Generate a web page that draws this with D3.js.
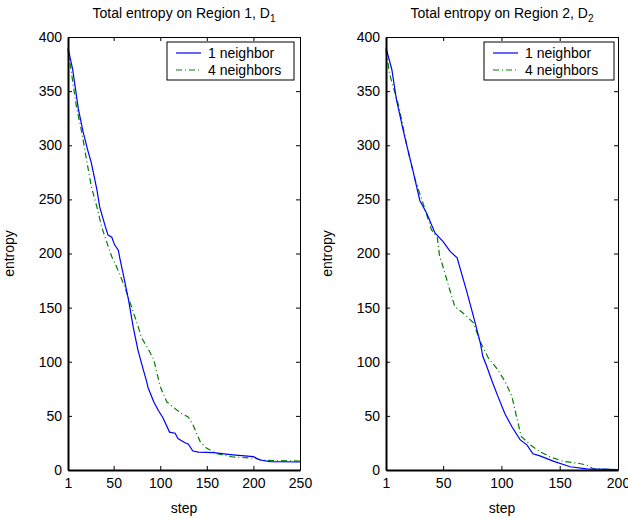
<!DOCTYPE html>
<html>
<head>
<meta charset="utf-8">
<script src="https://cdn.jsdelivr.net/npm/d3@7"></script>
<style>
  body { margin: 0; background: #fff; }
  text { font-family: "Liberation Sans", Arial, Helvetica, sans-serif; fill: #000; }
</style>
</head>
<body>
<div id="chart"></div>
<script>
// series names
const seriesNames = ['1 neighbor', '4 neighbors'];
const yTicks = [0, 50, 100, 150, 200, 250, 300, 350, 400];

// Region 1 (D1)
const r1Ticks = [1, 50, 100, 150, 200, 250];
const r1OneSteps = [1, 6, 12, 17, 22, 26, 32, 35, 41, 44, 48, 51, 55, 57, 60, 66, 71, 76, 82, 85, 87, 93, 98, 103, 110, 116, 119, 127, 130, 135, 141, 157, 178, 200, 207, 218, 250];
const r1OneVals = [390, 370, 334, 313, 296, 284, 259, 243, 225, 217, 215, 208, 203, 194, 182, 157, 132, 111, 92, 83, 76, 63, 55, 48, 35, 34, 29, 25, 24, 17.5, 16.6, 16, 14, 12.3, 9.2, 7.7, 7.4];
const r1FourSteps = [1, 5, 10, 16, 21, 26, 32, 37, 42, 48, 53, 62, 69, 75, 80, 87, 93, 100, 107, 114, 123, 130, 135, 143, 150, 161, 178, 200, 211, 228, 250];
const r1FourVals = [388, 365, 336, 311, 286, 262, 243, 225, 212, 197, 188, 169, 151, 136, 122, 112, 102, 77, 63, 58, 52, 49, 42, 26, 20, 15, 12, 11, 9, 8.6, 8.3];

// Region 2 (D2)
const r2Ticks = [1, 50, 100, 150, 200];
const r2OneSteps = [1, 6, 10, 17, 24, 30, 36, 43, 50, 56, 62, 70, 76, 82, 84, 87, 92, 97, 103, 109, 116, 122, 127, 133, 145, 159, 173, 200];
const r2OneVals = [390, 370, 342, 308, 277, 249, 237, 219, 211, 202, 196, 166, 142, 117, 105, 97, 82, 68, 52, 40, 28, 23, 15, 13, 8, 3, 1, 0.3];
const r2FourSteps = [1, 4, 12, 19, 26, 32, 40, 45, 47, 49, 55, 60, 67, 76, 82, 89, 96, 103, 109, 113, 117, 125, 133, 142, 153, 167, 173, 179, 200];
const r2FourVals = [388, 366, 336, 299, 268, 249, 222, 215, 197, 191, 169, 151, 145, 136, 118, 103, 94, 82, 68, 49, 31, 23, 17, 12, 8, 6, 4.6, 1, 0.3];

const svg = d3.select('#chart').append('svg')
  .attr('width', 628)
  .attr('height', 518);

const fontSize = '14px';

function zip(steps, vals) {
  return steps.map((s, i) => ({ step: s, value: vals[i] }));
}

function drawPanel(cfg) {
  const w = 232, h = 433;
  const g = svg.append('g').attr('transform', `translate(${cfg.left}, 37)`);

  const x = d3.scaleLinear().domain([1, cfg.xMax]).range([0, w]);
  const y = d3.scaleLinear().domain([0, 400]).range([h, 0]);

  const line = d3.line()
    .x(d => x(d.step))
    .y(d => y(d.value));

  // curves
  g.append('path')
    .datum(zip(cfg.fourSteps, cfg.fourVals))
    .attr('fill', 'none')
    .attr('stroke', '#008000')
    .attr('stroke-width', 1.2)
    .attr('stroke-dasharray', '6,3,1,3')
    .attr('d', line);

  g.append('path')
    .datum(zip(cfg.oneSteps, cfg.oneVals))
    .attr('fill', 'none')
    .attr('stroke', '#0000ff')
    .attr('stroke-width', 1.2)
    .attr('d', line);

  // axes, matlab style: ticks inward on all four sides
  const bottom = g.append('g').attr('transform', `translate(0, ${h})`)
    .call(d3.axisBottom(x).tickValues(cfg.xTicks).tickSizeInner(-4).tickSizeOuter(0).tickPadding(8));
  const top = g.append('g')
    .call(d3.axisTop(x).tickValues(cfg.xTicks).tickSizeInner(-4).tickSizeOuter(0).tickFormat(''));
  const left = g.append('g')
    .call(d3.axisLeft(y).tickValues(yTicks).tickSizeInner(-4).tickSizeOuter(0).tickPadding(6));
  const right = g.append('g').attr('transform', `translate(${w}, 0)`)
    .call(d3.axisRight(y).tickValues(yTicks).tickSizeInner(-4).tickSizeOuter(0).tickFormat(''));

  [bottom, top, left, right].forEach(a => {
    a.selectAll('path').attr('stroke', '#000').attr('stroke-width', 1);
    a.selectAll('line').attr('stroke', '#000');
    a.selectAll('text').style('font-size', fontSize).attr('fill', '#000');
  });
  bottom.select('path').attr('stroke-width', 2);
  left.select('path').attr('stroke-width', 2);

  // title
  const title = g.append('text')
    .attr('x', w / 2)
    .attr('y', -19)
    .attr('text-anchor', 'middle')
    .style('font-size', fontSize);
  title.append('tspan').text(cfg.title);
  title.append('tspan').attr('dy', 4).style('font-size', '10px').text(cfg.sub);

  g.append('text')
    .attr('x', w / 2)
    .attr('y', h + 43)
    .attr('text-anchor', 'middle')
    .style('font-size', fontSize)
    .text('step');

  g.append('text')
    .attr('transform', `translate(${-cfg.left + cfg.yLabelX}, ${h / 2}) rotate(-90)`)
    .attr('text-anchor', 'middle')
    .style('font-size', fontSize)
    .text('entropy');

  // legend
  const lg = g.append('g').attr('transform', `translate(${cfg.legX}, 5)`);
  lg.append('rect')
    .attr('width', cfg.legW).attr('height', 38)
    .attr('fill', '#fff').attr('stroke', '#000').attr('stroke-width', 1);
  const legItems = [
    { name: seriesNames[0], color: '#0000ff', dash: null },
    { name: seriesNames[1], color: '#008000', dash: '6,3,1,3' }
  ];
  legItems.forEach((d, i) => {
    const yy = 11 + i * 17;
    lg.append('line')
      .attr('x1', 9).attr('x2', 34).attr('y1', yy).attr('y2', yy)
      .attr('stroke', d.color).attr('stroke-width', 1.2)
      .attr('stroke-dasharray', d.dash);
    lg.append('text')
      .attr('x', 41).attr('y', yy + 5)
      .style('font-size', fontSize)
      .text(d.name);
  });
}

drawPanel({
  left: 68, xMax: 250, xTicks: r1Ticks,
  oneSteps: r1OneSteps, oneVals: r1OneVals,
  fourSteps: r1FourSteps, fourVals: r1FourVals,
  title: 'Total entropy on Region 1, D', sub: '1',
  yLabelX: 14, legX: 99, legW: 127
});

drawPanel({
  left: 386, xMax: 200, xTicks: r2Ticks,
  oneSteps: r2OneSteps, oneVals: r2OneVals,
  fourSteps: r2FourSteps, fourVals: r2FourVals,
  title: 'Total entropy on Region 2, D', sub: '2',
  yLabelX: 332, legX: 98, legW: 130
});
</script>
</body>
</html>
